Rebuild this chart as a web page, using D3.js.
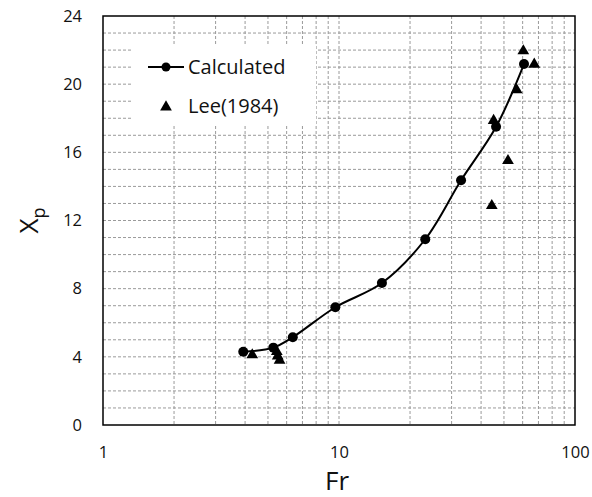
<!DOCTYPE html>
<html>
<head>
<meta charset="utf-8">
<script src="https://cdn.jsdelivr.net/npm/d3@7"></script>
<style>
  body { margin: 0; background: #fff; }
  svg text { font-family: "Open Sans", "Noto Sans", sans-serif; fill: #111; }
</style>
</head>
<body>
<svg id="chart"></svg>
<script>
// data
const calcFr = [3.93, 5.27, 6.37, 9.65, 15.2, 23.2, 32.9, 46.3, 60.8];
const calcXp = [4.30, 4.54, 5.15, 6.91, 8.33, 10.90, 14.36, 17.50, 21.18];
const leeFr = [4.29, 5.45, 5.5, 5.6, 44.4, 45.2, 52.0, 56.6, 60.4, 67.2];
const leeXp = [4.11, 4.3, 4.05, 3.8, 12.87, 17.86, 15.51, 19.66, 21.95, 21.17];
const xTicks = [1, 10, 100];
const yTicks = [0, 4, 8, 12, 16, 20, 24];

const W = 592, H = 497;
const margin = {top: 16, right: 17, bottom: 72, left: 103};
const width = W - margin.left - margin.right;
const height = H - margin.top - margin.bottom;

const svg = d3.select('#chart').attr('width', W).attr('height', H);
const chart = svg.append('g')
    .attr('transform', `translate(${margin.left}, ${margin.top})`);

const xScale = d3.scaleLog().domain([1, 100]).range([0, width]);
const yScale = d3.scaleLinear().domain([0, 24]).range([height, 0]);

// grid
const xMinor = [];
for (let d = 1; d < 100; d *= 10) for (let k = 2; k <= 9; k++) xMinor.push(d * k);
xMinor.push(10);
const yMinor = d3.range(1, 24);

const grid = chart.append('g')
    .attr('stroke', '#9a9a9a')
    .attr('stroke-width', 1)
    .attr('stroke-dasharray', '3,2');
grid.selectAll('line.gx').data(xMinor).enter().append('line')
    .attr('x1', d => xScale(d)).attr('x2', d => xScale(d))
    .attr('y1', 0).attr('y2', height);
grid.selectAll('line.gy').data(yMinor).enter().append('line')
    .attr('x1', 0).attr('x2', width)
    .attr('y1', d => yScale(d)).attr('y2', d => yScale(d));

// frame
chart.append('rect')
    .attr('width', width).attr('height', height)
    .attr('fill', 'none').attr('stroke', '#000').attr('stroke-width', 1.5);

// axes (labels only)
const xAxis = d3.axisBottom(xScale).tickValues(xTicks).tickFormat(d3.format('d')).tickSize(0).tickPadding(21);
chart.append('g').attr('transform', `translate(0, ${height})`).call(xAxis)
    .call(g => g.select('.domain').remove())
    .selectAll('text').style('font-size', '16.5px').attr('fill', '#111');

const yAxis = d3.axisLeft(yScale).tickValues(yTicks).tickSize(0).tickPadding(21);
chart.append('g').call(yAxis)
    .call(g => g.select('.domain').remove())
    .selectAll('text').style('font-size', '16.5px').attr('fill', '#111');

// axis titles
svg.append('text')
    .attr('x', margin.left + width / 2 - 2).attr('y', 490)
    .attr('text-anchor', 'middle').style('font-size', '26px').text('Fr');

const yTitle = svg.append('text')
    .attr('transform', `translate(38, ${margin.top + height / 2}) rotate(-90)`)
    .attr('text-anchor', 'middle').style('font-size', '26px');
yTitle.append('tspan').text('X');
yTitle.append('tspan').attr('dy', 7).style('font-size', '18px').text('p');

// calculated curve
const calc = calcFr.map((f, i) => ({x: f, y: calcXp[i]}));
const line = d3.line()
    .x(d => xScale(d.x)).y(d => yScale(d.y))
    .curve(d3.curveCatmullRom.alpha(0.5));
chart.append('path').datum(calc)
    .attr('d', line).attr('fill', 'none')
    .attr('stroke', '#000').attr('stroke-width', 2);
chart.selectAll('circle.calc').data(calc).enter().append('circle')
    .attr('cx', d => xScale(d.x)).attr('cy', d => yScale(d.y))
    .attr('r', 5).attr('fill', '#000');

// Lee (1984) triangles
const lee = leeFr.map((f, i) => ({x: f, y: leeXp[i]}));
const tri = d3.symbol().type(d3.symbolTriangle).size(60);
chart.selectAll('path.lee').data(lee).enter().append('path')
    .attr('d', tri)
    .attr('transform', d => `translate(${xScale(d.x)}, ${yScale(d.y)})`)
    .attr('fill', '#000');

// legend
const legend = svg.append('g');
legend.append('rect')
    .attr('x', 131).attr('y', 46).attr('width', 185).attr('height', 78)
    .attr('fill', '#fff');
legend.append('line')
    .attr('x1', 148).attr('x2', 184).attr('y1', 67).attr('y2', 67)
    .attr('stroke', '#000').attr('stroke-width', 2);
legend.append('circle').attr('cx', 166).attr('cy', 67).attr('r', 4.5).attr('fill', '#000');
legend.append('text').attr('x', 188).attr('y', 74)
    .style('font-size', '20px').text('Calculated');
legend.append('path').attr('d', tri)
    .attr('transform', 'translate(166, 107)').attr('fill', '#000');
legend.append('text').attr('x', 188).attr('y', 113)
    .style('font-size', '20px').text('Lee(1984)');
</script>
</body>
</html>
